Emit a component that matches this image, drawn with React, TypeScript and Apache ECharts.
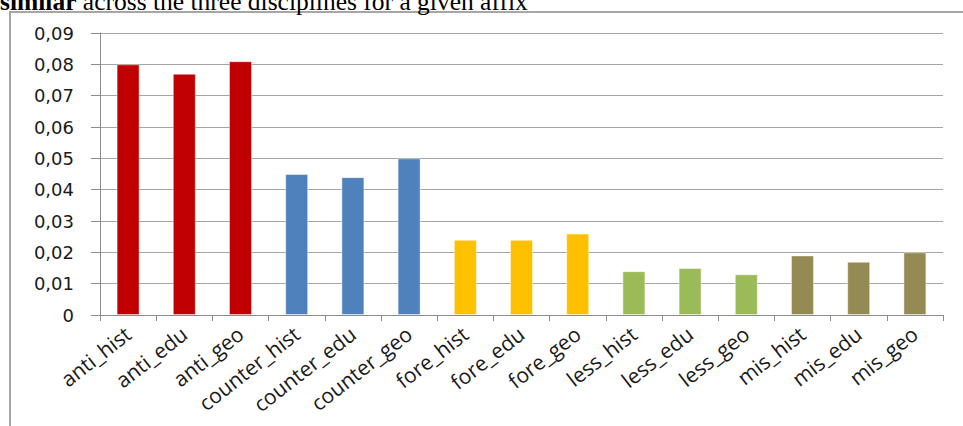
import React, { useEffect, useRef } from "react";
import * as echarts from "echarts";

const categories = [
  "anti_hist", "anti_edu", "anti_geo",
  "counter_hist", "counter_edu", "counter_geo",
  "fore_hist", "fore_edu", "fore_geo",
  "less_hist", "less_edu", "less_geo",
  "mis_hist", "mis_edu", "mis_geo",
];
const values = [
  0.080, 0.077, 0.081,
  0.045, 0.044, 0.050,
  0.024, 0.024, 0.026,
  0.014, 0.015, 0.013,
  0.019, 0.017, 0.020,
];
const groupColors = ["#C00000", "#4F81BD", "#FFC000", "#9BBB59", "#948A54"];
const yMin = 0;
const yMax = 0.09;
const yStep = 0.01;
const captionBold = "similar";
const captionRest = " across the three disciplines for a given affix";

export default function App() {
  const ref = useRef<HTMLDivElement>(null);
  useEffect(() => {
    if (!ref.current) return;
    const chart = echarts.init(ref.current, undefined, { renderer: "svg" });
    chart.setOption({
      animation: false,
      backgroundColor: "#ffffff",
      grid: { left: 100, right: 20, top: 33, bottom: 111, containLabel: false },
      graphic: [
        {
          type: "rect",
          shape: { x: 10, y: 12, width: 1000, height: 500 },
          style: { fill: "none", stroke: "#a6a6a6", lineWidth: 2 },
          silent: true,
        },
        {
          type: "text",
          x: 0,
          y: 14,
          style: {
            text: "{b|" + captionBold + "}" + captionRest,
            font: '25.5px "Liberation Serif"',
            fill: "#000",
            verticalAlign: "bottom",
            rich: {
              b: { fontWeight: "bold", fontSize: 25.5, fontFamily: "Liberation Serif", fill: "#000" },
            },
          },
        },
      ],
      xAxis: {
        type: "category",
        data: categories,
        boundaryGap: true,
        axisLine: { show: true, lineStyle: { color: "#8c8c8c", width: 1 } },
        axisTick: { show: true, length: 6, alignWithLabel: false, lineStyle: { color: "#8c8c8c" } },
        axisLabel: {
          rotate: 38,
          margin: 16,
          interval: 0,
          color: "#1a1a1a",
          fontSize: 21,
          fontFamily: "Open Sans",
        },
        splitLine: { show: false },
      },
      yAxis: {
        type: "value",
        min: yMin,
        max: yMax,
        interval: yStep,
        axisLine: { show: true, lineStyle: { color: "#8c8c8c", width: 1 } },
        axisTick: { show: true, length: 9, lineStyle: { color: "#8c8c8c" } },
        axisLabel: {
          margin: 26,
          color: "#1a1a1a",
          fontSize: 18,
          fontFamily: "DejaVu Sans",
          formatter: (v: number) => (v === 0 ? "0" : v.toFixed(2).replace(".", ",")),
        },
        splitLine: { show: true, lineStyle: { color: "#a6a6a6", width: 1 } },
      },
      series: [
        {
          type: "bar",
          barWidth: 23,
          data: values.map((v, i) => ({
            value: v,
            itemStyle: {
              color: groupColors[Math.floor(i / 3)],
              borderColor: "rgba(255,255,255,0.45)",
              borderWidth: 1,
            },
          })),
        },
      ],
    });
    return () => chart.dispose();
  }, []);
  return (
    <div
      ref={ref}
      style={{ position: "fixed", left: 0, top: 0, width: 963, height: 426, background: "#fff" }}
    />
  );
}
